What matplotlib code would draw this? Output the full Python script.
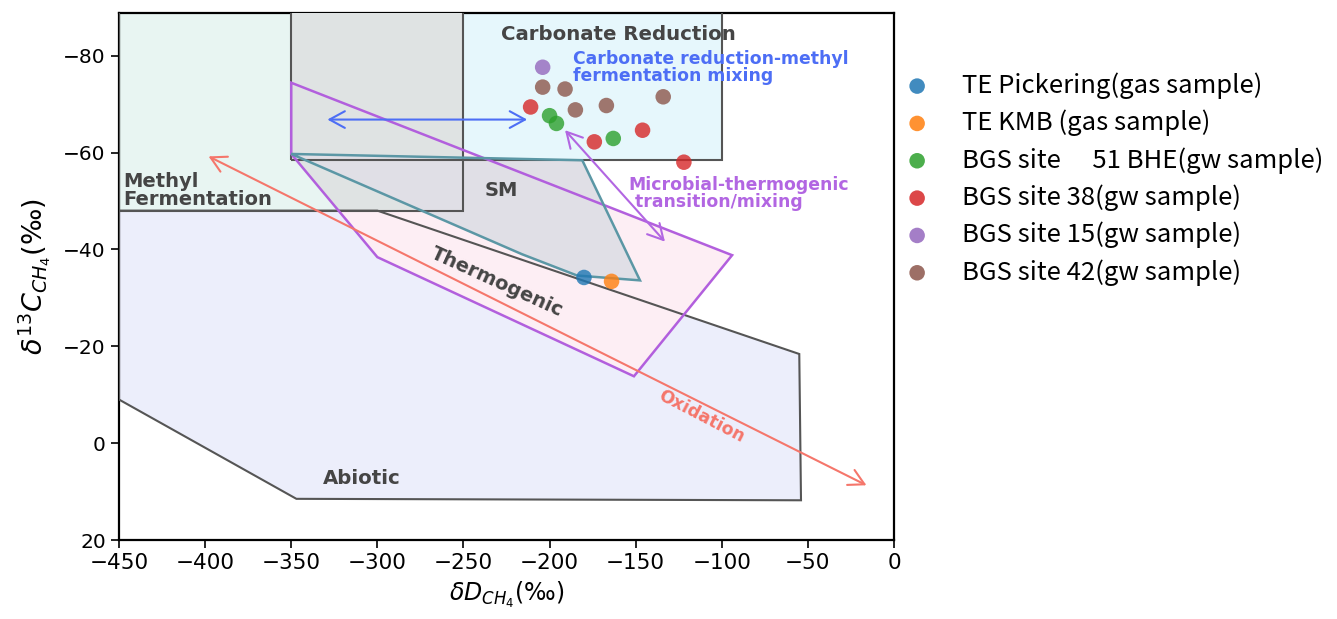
import matplotlib
matplotlib.use("Agg")
import matplotlib.pyplot as plt
from matplotlib.patches import Polygon
from matplotlib import font_manager as fm

# ---------------- data ----------------
# sample points (dD, d13C)
pickering_dD = [-180]
pickering_dC = [-34.2]
kmb_dD = [-164]
kmb_dC = [-33.4]
bhe51_dD = [-200, -196, -163]
bhe51_dC = [-67.6, -66.0, -62.9]
site38_dD = [-211, -174, -146, -122]
site38_dC = [-69.4, -62.2, -64.6, -58.0]
site15_dD = [-204]
site15_dC = [-77.6]
site42_dD = [-204, -191, -185, -167, -134]
site42_dC = [-73.5, -73.1, -68.8, -69.7, -71.5]

series_labels = ["TE Pickering(gas sample)", "TE KMB (gas sample)",
                 "BGS site\u3000 51 BHE(gw sample)", "BGS site 38(gw sample)",
                 "BGS site 15(gw sample)", "BGS site 42(gw sample)"]
series_colors = ["#1f77b4", "#ff7f0e", "#2ca02c", "#d62728", "#9467bd", "#8c564b"]

# genetic fields (dD, d13C vertices)
mf_x = [-450, -250, -250, -450]
mf_y = [-48, -48, -100, -100]
cr_x = [-350, -100, -100, -350]
cr_y = [-58.4, -58.4, -100, -100]
sm_x = [-350, -181, -147.5, -184, -216]
sm_y = [-59.7, -58.4, -33.6, -34.6, -39.0]
th_x = [-350, -94, -151, -300, -350]
th_y = [-74.4, -38.8, -13.8, -38.4, -59.7]
ab_x = [-450, -300, -55, -54, -347, -450]
ab_y = [-48, -48, -18.4, 11.8, 11.5, -9.0]

xticks = [-450, -400, -350, -300, -250, -200, -150, -100, -50, 0]
yticks = [-80, -60, -40, -20, 0, 20]

# ---------------- figure ----------------
fig = plt.figure(figsize=(13.37, 6.19), dpi=100)
ax = fig.add_axes([119/1337, 79/619, 775/1337, 527/619])
ax.set_xlim(-450, 0)
ax.set_ylim(20, -88.8)

def poly(xs, ys, **kw):
    p = Polygon(list(zip(xs, ys)), closed=True, **kw)
    ax.add_patch(p)
    return p

# fills
poly(ab_x, ab_y, fc="#eceefb", ec="none", zorder=1)
mf_patch = poly(mf_x, mf_y, fc="#e8f5f2", ec="none", zorder=1)
poly(cr_x, cr_y, fc="#e6f7fc", ec="none", zorder=1)
poly(th_x, th_y, fc="#fdeef4", ec="none", zorder=2)
# overlaps with methyl fermentation field
for xs, ys in [(cr_x, cr_y), (th_x, th_y)]:
    p = poly(xs, ys, fc="#dfe3e3", ec="none", zorder=3)
    p.set_clip_path(mf_patch)
poly(sm_x, sm_y, fc="#e0dfe6", ec="none", zorder=4)

# edges
edge = "#555555"
poly(ab_x, ab_y, fc="none", ec=edge, lw=1.5, zorder=5)
poly(mf_x, mf_y, fc="none", ec=edge, lw=1.5, zorder=5)
poly(cr_x, cr_y, fc="none", ec=edge, lw=1.5, zorder=5)
poly(th_x, th_y, fc="none", ec="#b25fdd", lw=1.8, zorder=6)
poly(sm_x, sm_y, fc="none", ec="#5b97a5", lw=1.8, zorder=6)

# arrows
def arrow(p0, p1, color):
    ax.annotate("", xy=p1, xytext=p0,
                arrowprops=dict(arrowstyle="<->,head_length=0.55,head_width=0.3",
                                color=color, lw=1.5, shrinkA=0, shrinkB=0,
                                mutation_scale=20), zorder=7)

arrow((-398, -59.2), (-16, 8.7), "#f5766b")
arrow((-329, -66.8), (-213, -66.8), "#4d6ef5")
arrow((-191, -64.6), (-133, -41.6), "#b266e2")

# labels
gray = "#454545"
ax.text(-160, -84.3, "Carbonate Reduction", fontsize=14.2, fontweight="bold",
        color=gray, ha="center", va="center", zorder=8)
ax.text(-447.5, -52.2, "Methyl\nFermentation", fontsize=14, fontweight="bold",
        color=gray, ha="left", va="center", linespacing=0.92, zorder=8)
ax.text(-228, -52.2, "SM", fontsize=14, fontweight="bold", color=gray,
        ha="center", va="center", zorder=8)
ax.text(-230.5, -33.2, "Thermogenic", fontsize=14, fontweight="bold", color=gray,
        ha="center", va="center", rotation=-24.5, zorder=8)
ax.text(-309, 7.4, "Abiotic", fontsize=14.2, fontweight="bold", color=gray,
        ha="center", va="center", zorder=8)
ax.text(-112, -5.6, "Oxidation", fontsize=12.5, fontweight="bold", color="#f5766b",
        ha="center", va="center", rotation=-27.5, zorder=8)
ax.text(-186.4, -77.6, "Carbonate reduction-methyl\nfermentation mixing", fontsize=12.4,
        fontweight="bold", color="#4d6ef5", ha="left", va="center",
        linespacing=0.92, zorder=8)
ax.text(-154, -51.6, "Microbial-thermogenic\n transition/mixing", fontsize=12.4,
        fontweight="bold", color="#b266e2", ha="left", va="center",
        linespacing=0.92, zorder=8)

# points
series = [(pickering_dD, pickering_dC), (kmb_dD, kmb_dC), (bhe51_dD, bhe51_dC),
          (site38_dD, site38_dC), (site15_dD, site15_dC), (site42_dD, site42_dC)]
for (xs, ys), lab, col in zip(series, series_labels, series_colors):
    ax.scatter(xs, ys, s=125, color=col, alpha=0.8, edgecolors="none",
               label=lab, zorder=9)

ax.set_xticks(xticks)
ax.set_yticks(yticks)
ax.tick_params(axis="x", labelsize=15.5, length=6, width=1.2)
ax.tick_params(axis="y", labelsize=14.5, length=6, width=1.2)
for s in ax.spines.values():
    s.set_linewidth(1.6)
ax.set_xlabel(r"$\delta D_{CH_4}$(‰)", fontsize=17, labelpad=5)
ax.set_ylabel(r"$\delta^{13}C_{CH_4}$(‰)", fontsize=19.5, labelpad=7)

leg = ax.legend(loc="upper left", bbox_to_anchor=(1.0, 0.907), frameon=False,
                prop={"family": ["Noto Sans CJK JP", "DejaVu Sans"], "size": 18.5},
                handletextpad=1.25, labelspacing=0.42, handlelength=1.0,
                borderaxespad=0.0)
for h in leg.legend_handles:
    h.set_alpha(0.85)

fig.savefig("out.png", dpi=100)
